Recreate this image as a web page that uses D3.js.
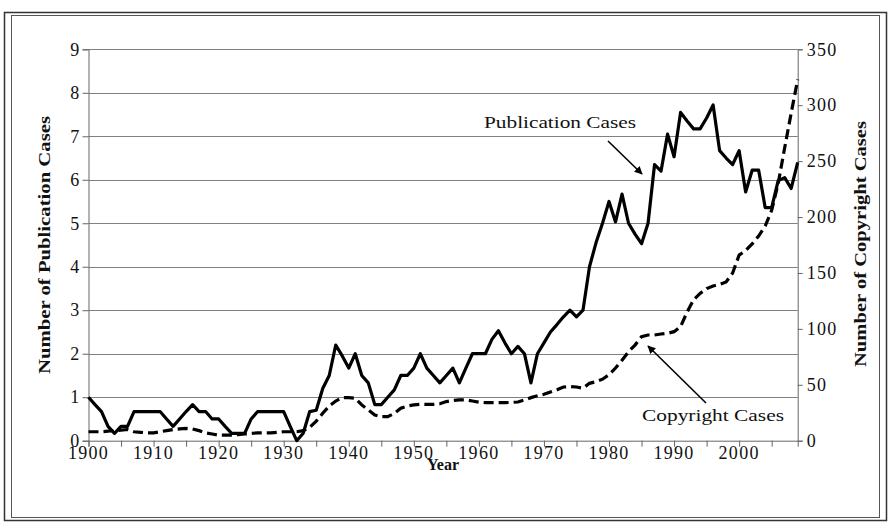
<!DOCTYPE html>
<html>
<head>
<meta charset="utf-8">
<script src="https://cdn.jsdelivr.net/npm/d3@7"></script>
<style>
  body { margin: 0; background: #fff; }
  text { font-family: "Liberation Serif", "DejaVu Serif", serif; }
  .tick-label { font-size: 18px; letter-spacing: 1.3px; fill: #111; }
  .axis-title { font-size: 16px; font-weight: bold; fill: #111; }
  .note { font-size: 17px; fill: #111; }
</style>
</head>
<body>
<div id="chart"></div>
<script>
// years on the category axis
var years = d3.range(1900, 2010);

// publication cases per year (left axis)
var publicationCases = [
  1.0, 0.83, 0.67, 0.33, 0.17, 0.33, 0.33, 0.67, 0.67, 0.67,
  0.67, 0.67, 0.5, 0.33, 0.5, 0.67, 0.83, 0.67, 0.67, 0.5,
  0.5, 0.33, 0.17, 0.17, 0.17, 0.5, 0.67, 0.67, 0.67, 0.67,
  0.67, 0.33, 0, 0.17, 0.67, 0.7, 1.2, 1.5, 2.2, 1.95,
  1.67, 2.0, 1.5, 1.33, 0.83, 0.83, 1.0, 1.17, 1.5, 1.5,
  1.67, 2.0, 1.67, 1.5, 1.33, 1.5, 1.67, 1.33, 1.67, 2.0,
  2.0, 2.0, 2.33, 2.53, 2.25, 2.0, 2.17, 2.0, 1.33, 2.0,
  2.25, 2.5, 2.67, 2.85, 3.0, 2.85, 3.0, 4.0, 4.55, 5.0,
  5.5, 5.03, 5.67, 5.0, 4.75, 4.53, 5.0, 6.35, 6.2, 7.05,
  6.53, 7.55, 7.35, 7.17, 7.17, 7.42, 7.72, 6.67, 6.5, 6.35,
  6.67, 5.72, 6.22, 6.22, 5.36, 5.36, 5.98, 6.05, 5.8, 6.4
];

// copyright cases per year (right axis)
var copyrightCases = [
  8, 8, 8, 8.5, 9, 9.5, 10, 8, 7.5, 7,
  7, 8, 9, 10, 10.5, 11, 10.5, 9, 7, 6,
  5, 5, 5, 5.5, 6, 6.5, 7, 7, 7, 7.5,
  8, 8, 8, 9, 12, 17.5, 24.5, 31, 35.5, 38.5,
  38.5, 38, 32, 27.5, 23, 21.5, 21.5, 24.5, 29, 31,
  32, 32.5, 32.5, 32.5, 33, 35, 36, 36.5, 36.5, 35.5,
  34.5, 34, 34, 34, 34, 34.3, 34.6, 36.4, 38.5, 40.2,
  41.5, 43.5, 45.5, 48, 48.5, 48, 47, 51.3, 52.8, 55,
  59, 65, 72, 79.6, 85.5, 93, 94.5, 94.5, 95.4, 96,
  97.5, 102, 115, 126, 131.7, 136, 138.3, 139.8, 142, 150,
  166, 170, 176, 183, 192, 206, 230, 262, 293, 323
];

var leftTicks = d3.range(0, 10);
var rightTicks = d3.range(0, 351, 50);
var yearLabels = d3.range(1900, 2001, 10);
var yearTicks = d3.range(1900, 2010, 5);

var width = 890,
  height = 523;

var plot = { left: 88.5, right: 797.7, top: 49.3, bottom: 440.7 };

var svg = d3.select("#chart")
  .append("svg")
  .attr("width", width)
  .attr("height", height);

// double frame around the whole figure
svg.append("rect")
  .attr("x", 4.5).attr("y", 12.5)
  .attr("width", 882).attr("height", 508)
  .attr("fill", "none").attr("stroke", "#333").attr("stroke-width", 1.5);
svg.append("rect")
  .attr("x", 11.5).attr("y", 15.5)
  .attr("width", 868).attr("height", 502)
  .attr("fill", "none").attr("stroke", "#555").attr("stroke-width", 1);

//SCALES
var x = d3.scaleLinear()
  .domain([1900, 2009])
  .range([plot.left, plot.right]);

var yLeft = d3.scaleLinear()
  .domain([0, 9])
  .range([plot.bottom, plot.top]);

var yRight = d3.scaleLinear()
  .domain([0, 350])
  .range([plot.bottom, plot.top]);

//GRIDLINES
svg.append("g")
  .selectAll("line")
  .data(leftTicks.slice(1))
  .enter().append("line")
  .attr("x1", plot.left)
  .attr("x2", plot.right)
  .attr("y1", function(d) { return Math.round(yLeft(d)) + 0.5; })
  .attr("y2", function(d) { return Math.round(yLeft(d)) + 0.5; })
  .attr("stroke", "#808080")
  .attr("stroke-width", 1);

//LEFT AXIS
var leftAxis = svg.append("g")
  .attr("transform", "translate(" + plot.left + ",0)")
  .call(d3.axisLeft(yLeft).tickValues(leftTicks).tickSize(6).tickPadding(2));

//RIGHT AXIS
var rightAxis = svg.append("g")
  .attr("transform", "translate(" + plot.right + ",0)")
  .call(d3.axisRight(yRight).tickValues(rightTicks).tickSize(5).tickPadding(4));

//BOTTOM AXIS
var bottomAxis = svg.append("g")
  .attr("transform", "translate(0," + plot.bottom + ")")
  .call(d3.axisBottom(x).tickValues(yearTicks).tickSize(6).tickFormat(""));

svg.append("g")
  .selectAll("text")
  .data(yearLabels)
  .enter().append("text")
  .attr("class", "tick-label")
  .attr("x", function(d) { return x(d); })
  .attr("y", plot.bottom + 18)
  .attr("text-anchor", "middle")
  .text(function(d) { return d; });

[leftAxis, rightAxis, bottomAxis].forEach(function(g) {
  g.attr("font-family", null).attr("font-size", null);
  g.select(".domain").attr("stroke", "#666");
  g.selectAll(".tick line").attr("stroke", "#666");
  g.selectAll(".tick text")
    .attr("class", "tick-label")
    .attr("fill", null);
});

//LINES
var pubLine = d3.line()
  .x(function(d, i) { return x(years[i]); })
  .y(function(d) { return yLeft(d); });

var copyLine = d3.line()
  .x(function(d, i) { return x(years[i]); })
  .y(function(d) { return yRight(d); });

svg.append("path")
  .datum(copyrightCases)
  .attr("d", copyLine)
  .attr("fill", "none")
  .attr("stroke", "#000")
  .attr("stroke-width", 3.2)
  .attr("stroke-dasharray", "10,5");

svg.append("path")
  .datum(publicationCases)
  .attr("d", pubLine)
  .attr("fill", "none")
  .attr("stroke", "#000")
  .attr("stroke-width", 3.2)
  .attr("stroke-linejoin", "round");

//AXIS TITLES
svg.append("text")
  .attr("class", "axis-title")
  .attr("transform", "translate(50,245) rotate(-90)")
  .attr("text-anchor", "middle")
  .attr("textLength", 258)
  .attr("lengthAdjust", "spacingAndGlyphs")
  .text("Number of Publication Cases");

svg.append("text")
  .attr("class", "axis-title")
  .attr("transform", "translate(866,244) rotate(-90)")
  .attr("text-anchor", "middle")
  .attr("textLength", 246)
  .attr("lengthAdjust", "spacingAndGlyphs")
  .text("Number of Copyright Cases");

svg.append("text")
  .attr("class", "axis-title")
  .attr("x", 443)
  .attr("y", 470)
  .attr("text-anchor", "middle")
  .text("Year");

//ANNOTATIONS
svg.append("defs").append("marker")
  .attr("id", "arrow")
  .attr("viewBox", "0 0 10 10")
  .attr("refX", 9).attr("refY", 5)
  .attr("markerWidth", 5).attr("markerHeight", 5)
  .attr("orient", "auto")
  .append("path")
  .attr("d", "M0,0L10,5L0,10z")
  .attr("fill", "#000");

svg.append("text")
  .attr("class", "note")
  .attr("x", 484)
  .attr("y", 128)
  .attr("textLength", 152)
  .attr("lengthAdjust", "spacingAndGlyphs")
  .text("Publication Cases");

svg.append("line")
  .attr("x1", 608).attr("y1", 141)
  .attr("x2", 642).attr("y2", 174)
  .attr("stroke", "#000").attr("stroke-width", 1.6)
  .attr("marker-end", "url(#arrow)");

svg.append("text")
  .attr("class", "note")
  .attr("x", 642)
  .attr("y", 421)
  .attr("textLength", 142)
  .attr("lengthAdjust", "spacingAndGlyphs")
  .text("Copyright Cases");

svg.append("line")
  .attr("x1", 706).attr("y1", 403)
  .attr("x2", 648).attr("y2", 346)
  .attr("stroke", "#000").attr("stroke-width", 1.6)
  .attr("marker-end", "url(#arrow)");
</script>
</body>
</html>
